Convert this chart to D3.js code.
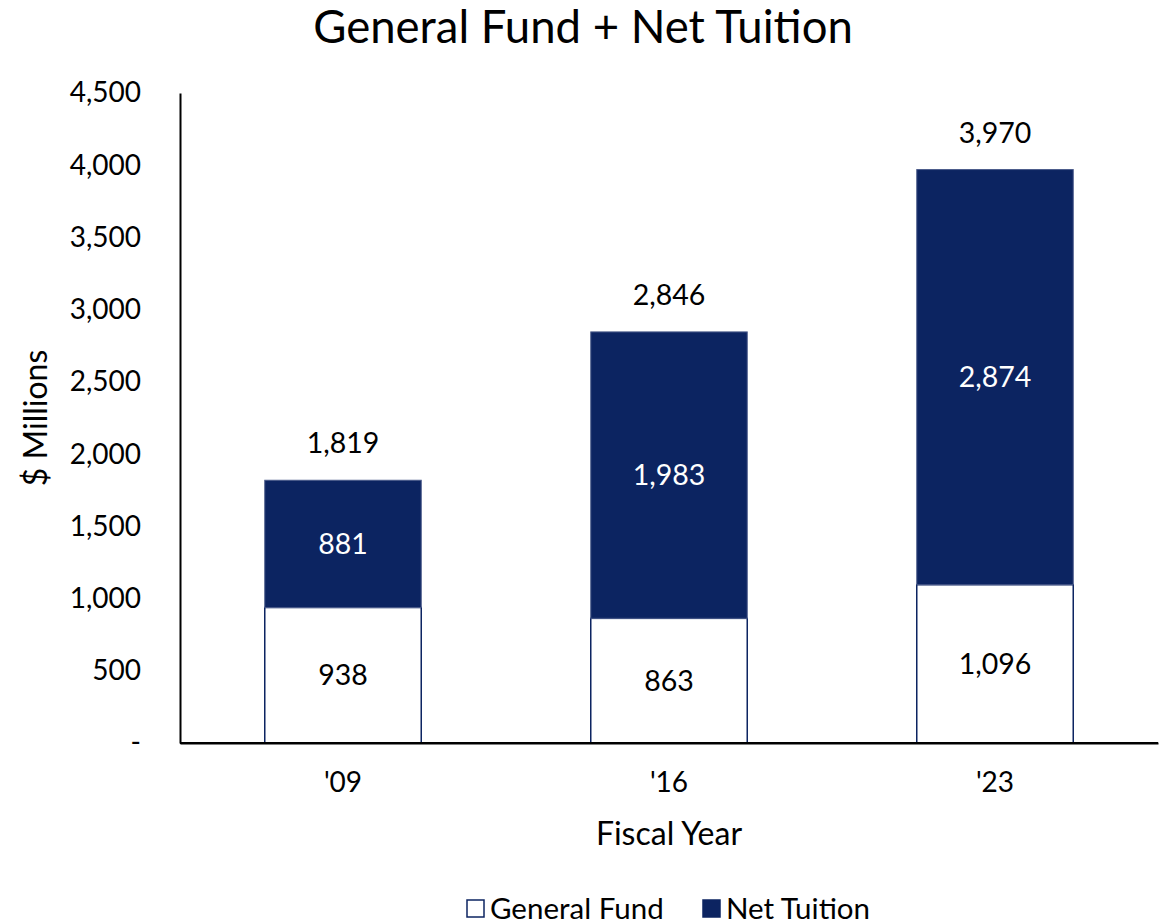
<!DOCTYPE html>
<html>
<head>
<meta charset="utf-8">
<script src="https://cdn.jsdelivr.net/npm/d3@7"></script>
<style>
  body { margin: 0; background: #fff; }
  text { font-family: Lato, "Open Sans", sans-serif; fill: #000; }
</style>
</head>
<body>
<div id="chart"></div>
<script>
// data
var years = ["'09", "'16", "'23"];
var generalFund = [938, 863, 1096];
var netTuition = [881, 1983, 2874];
var totals = [1819, 2846, 3970];
var yTicks = [0, 500, 1000, 1500, 2000, 2500, 3000, 3500, 4000, 4500];

var navy = "#0c2461";

var margin = {top: 93, right: 8, bottom: 180, left: 180};
var width = 1166 - margin.left - margin.right;
var height = 923 - margin.top - margin.bottom;

var svg = d3.select("#chart")
    .append("svg")
    .attr("width", 1166)
    .attr("height", 923);

var g = svg.append("g")
    .attr("transform", "translate(" + margin.left + "," + margin.top + ")");

var x = d3.scaleBand()
    .domain(years)
    .range([0, width])
    .paddingInner(0.52)
    .paddingOuter(0.26);

var y = d3.scaleLinear()
    .domain([0, 4500])
    .range([height, 0]);

// axes
var fmt = d3.format(",");
var yAxis = g.append("g")
    .call(d3.axisLeft(y).tickValues(yTicks).tickSize(0).tickPadding(39)
        .tickFormat(function(d) { return d === 0 ? "-" : fmt(d); }));
yAxis.select(".domain").attr("stroke", "#000").attr("stroke-width", 2);
yAxis.selectAll("text").style("font-size", "28px").attr("font-family", null);

var xAxis = g.append("g")
    .attr("transform", "translate(0," + height + ")")
    .call(d3.axisBottom(x).tickSize(0).tickPadding(29));
xAxis.select(".domain").attr("stroke", "#000").attr("stroke-width", 2);
xAxis.selectAll("text").style("font-size", "28px").attr("font-family", null);

// bars
var rows = years.map(function(yr, i) {
    return {year: yr, gf: generalFund[i], nt: netTuition[i], total: totals[i]};
});

g.selectAll(".gf")
    .data(rows)
    .enter()
    .append("rect")
        .attr("x", function(d) { return x(d.year); })
        .attr("y", function(d) { return y(d.gf); })
        .attr("width", x.bandwidth())
        .attr("height", function(d) { return height - y(d.gf); })
        .style("fill", "#fff")
        .style("stroke", navy)
        .style("stroke-width", 1.5);

g.selectAll(".nt")
    .data(rows)
    .enter()
    .append("rect")
        .attr("x", function(d) { return x(d.year); })
        .attr("y", function(d) { return y(d.gf + d.nt); })
        .attr("width", x.bandwidth())
        .attr("height", function(d) { return y(d.gf) - y(d.gf + d.nt); })
        .style("fill", navy)
        .style("stroke", "#4a5a8a")
        .style("stroke-width", 1);

// redraw baseline over the bars
g.append("line")
    .attr("x1", 0).attr("x2", width)
    .attr("y1", height).attr("y2", height)
    .attr("stroke", "#000").attr("stroke-width", 2);

// labels inside segments
g.selectAll(".gfLabel")
    .data(rows)
    .enter()
    .append("text")
        .attr("x", function(d) { return x(d.year) + x.bandwidth() / 2; })
        .attr("y", function(d) { return (y(d.gf) + height) / 2; })
        .attr("dy", "0.35em")
        .attr("text-anchor", "middle")
        .style("font-size", "28.5px")
        .text(function(d) { return fmt(d.gf); });

g.selectAll(".ntLabel")
    .data(rows)
    .enter()
    .append("text")
        .attr("x", function(d) { return x(d.year) + x.bandwidth() / 2; })
        .attr("y", function(d) { return (y(d.gf) + y(d.gf + d.nt)) / 2; })
        .attr("dy", "0.35em")
        .attr("text-anchor", "middle")
        .style("font-size", "28.5px")
        .style("fill", "#fff")
        .text(function(d) { return fmt(d.nt); });

g.selectAll(".totLabel")
    .data(rows)
    .enter()
    .append("text")
        .attr("x", function(d) { return x(d.year) + x.bandwidth() / 2; })
        .attr("y", function(d) { return y(d.total) - 37; })
        .attr("dy", "0.35em")
        .attr("text-anchor", "middle")
        .style("font-size", "28.5px")
        .text(function(d) { return fmt(d.total); });

// titles
svg.append("text")
    .attr("x", 583).attr("y", 43)
    .attr("text-anchor", "middle")
    .style("font-size", "45.5px")
    .text("General Fund + Net Tuition");

svg.append("text")
    .attr("transform", "translate(47,418) rotate(-90)")
    .attr("text-anchor", "middle")
    .style("font-size", "32px")
    .text("$ Millions");

svg.append("text")
    .attr("x", margin.left + width / 2).attr("y", 845)
    .attr("text-anchor", "middle")
    .style("font-size", "32px")
    .text("Fiscal Year");

// legend
var legend = [{name: "General Fund", fill: "#fff"}, {name: "Net Tuition", fill: navy}];
var lx = [467, 703];
var lg = svg.selectAll(".legend")
    .data(legend)
    .enter()
    .append("g")
    .attr("transform", function(d, i) { return "translate(" + lx[i] + ",900)"; });
lg.append("rect")
    .attr("width", 17).attr("height", 17)
    .style("fill", function(d) { return d.fill; })
    .style("stroke", navy).style("stroke-width", 1.5);
lg.append("text")
    .attr("x", 23).attr("y", 8.5).attr("dy", "0.36em")
    .style("font-size", "29.5px")
    .text(function(d) { return d.name; });
</script>
</body>
</html>
